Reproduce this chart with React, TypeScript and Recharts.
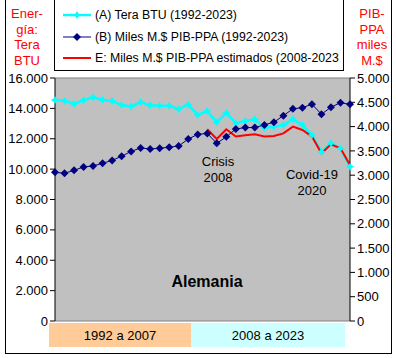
import React from 'react'
import { ComposedChart, Line, XAxis, YAxis, CartesianGrid, ReferenceLine } from 'recharts'

const years = [
  1992, 1993, 1994, 1995, 1996, 1997, 1998, 1999, 2000, 2001, 2002, 2003, 2004, 2005, 2006, 2007,
  2008, 2009, 2010, 2011, 2012, 2013, 2014, 2015, 2016, 2017, 2018, 2019, 2020, 2021, 2022, 2023,
]

// (A) Tera BTU
const teraBtu = [
  14550, 14500, 14290, 14530, 14730, 14550, 14480, 14220, 14130, 14420, 14200, 14170, 14170, 13950, 14260, 13560,
  13820, 13080, 13710, 13010, 13170, 13280, 12730, 12790, 12900, 13280, 12900, 12240, 11150, 11700, 11370, 10160,
]

// (B) Miles M.$ PIB-PPA
const pibPpa = [
  3060, 3040, 3100, 3170, 3190, 3245, 3305, 3390, 3490, 3560, 3540, 3555, 3575, 3600, 3745, 3840,
  3860, 3655, 3790, 3950, 3980, 3980, 4035, 4090, 4225, 4365, 4390, 4460, 4255, 4400, 4490, 4460,
]

// E: estimados 2008-2023
const pibEst = [
  null, null, null, null, null, null, null, null, null, null, null, null, null, null, null, null,
  3945, 3745, 3945, 3795, 3820, 3840, 3795, 3805, 3860, 4000, 3930, 3795, 3450, 3635, 3555, 3210,
]

const leftTicks = [0, 2000, 4000, 6000, 8000, 10000, 12000, 14000, 16000]
const rightTicks = [0, 500, 1000, 1500, 2000, 2500, 3000, 3500, 4000, 4500, 5000]

const data = years.map((y, i) => ({ year: y, tera: teraBtu[i], pib: pibPpa[i], est: pibEst[i] }))

const fmt = (v: number) => String(v).replace(/\B(?=(\d{3})+(?!\d))/g, '.')

const font = '"Liberation Sans", Arial, sans-serif'

const Diamond = (props: any) => {
  const { cx, cy, fill } = props
  if (cx == null || cy == null) return null
  return <polygon points={`${cx},${cy - 4} ${cx + 4},${cy} ${cx},${cy + 4} ${cx - 4},${cy}`} fill={fill} />
}

const Star = (props: any) => {
  const { cx, cy } = props
  if (cx == null || cy == null) return null
  return (
    <polygon
      points={`${cx},${cy - 4} ${cx + 1.5},${cy - 1.5} ${cx + 4},${cy} ${cx + 1.5},${cy + 1.5} ${cx},${cy + 4} ${cx - 1.5},${cy + 1.5} ${cx - 4},${cy} ${cx - 1.5},${cy - 1.5}`}
      fill="#00FFFF"
    />
  )
}

const legendItems = [
  { label: '(A) Tera BTU (1992-2023)', color: '#00FFFF', w: 2.5, mark: 'star' },
  { label: '(B) Miles M.$ PIB-PPA (1992-2023)', color: '#000080', w: 1, mark: 'diamond' },
  { label: 'E: Miles M.$ PIB-PPA estimados (2008-2023', color: '#FF0000', w: 2, mark: '' },
]

export default function App() {
  return (
    <div style={{ position: 'absolute', left: 0, top: 0, width: 396, height: 358, background: '#fff', fontFamily: font, overflow: 'hidden' }}>
      <div style={{ position: 'absolute', left: 5, top: -1, width: 385, height: 353, border: '1px solid #000' }} />

      <ComposedChart
        width={396}
        height={358}
        data={data}
        margin={{ top: 78, right: 0, bottom: 37, left: 0 }}
        style={{ position: 'absolute', left: 0, top: 0 }}
      >
        <CartesianGrid fill="#C0C0C0" horizontal={false} vertical={false} yAxisId="left" />
        <XAxis dataKey="year" hide />
        <YAxis
          yAxisId="left"
          width={55}
          domain={[0, 16000]}
          ticks={leftTicks}
          tickFormatter={fmt}
          interval={0}
          axisLine={{ stroke: '#000' }}
          tickLine={{ stroke: '#000' }}
          tickSize={5}
          tick={{ fill: '#000', fontSize: 13, fontFamily: font }}
        />
        <YAxis
          yAxisId="right"
          orientation="right"
          width={46}
          domain={[0, 5000]}
          ticks={rightTicks}
          tickFormatter={fmt}
          interval={0}
          axisLine={{ stroke: '#000' }}
          tickLine={{ stroke: '#000' }}
          tickSize={5}
          tick={{ fill: '#000', fontSize: 13, fontFamily: font, textAnchor: 'start' }}
        />
        <ReferenceLine yAxisId="left" y={16000} stroke="#808080" />
        <ReferenceLine yAxisId="left" y={0} stroke="#808080" />
        <Line
          yAxisId="left"
          dataKey="tera"
          stroke="#00FFFF"
          strokeWidth={2.5}
          type="linear"
          dot={<Star />}
          isAnimationActive={false}
        />
        <Line
          yAxisId="right"
          dataKey="est"
          stroke="#FF0000"
          strokeWidth={2}
          type="linear"
          dot={false}
          connectNulls={false}
          isAnimationActive={false}
        />
        <Line
          yAxisId="right"
          dataKey="pib"
          stroke="#000080"
          strokeWidth={1}
          type="linear"
          dot={<Diamond fill="#000080" />}
          isAnimationActive={false}
        />
      </ComposedChart>

      {/* legend */}
      <div style={{ position: 'absolute', left: 54, top: -1, width: 288, height: 70, border: '1px solid #000', background: '#fff' }}>
        {legendItems.map((it, i) => (
          <div key={i} style={{ position: 'absolute', left: 8, top: 7 + i * 21.5, height: 16, display: 'flex', alignItems: 'center', fontSize: 12.3, whiteSpace: 'nowrap' }}>
            <svg width={28} height={10} style={{ marginRight: 4 }}>
              <line x1={0} y1={5} x2={28} y2={5} stroke={it.color} strokeWidth={it.w} />
              {it.mark === 'star' && <Star cx={14} cy={5} />}
              {it.mark === 'diamond' && <Diamond cx={14} cy={5} fill={it.color} />}
            </svg>
            <span>{it.label}</span>
          </div>
        ))}
      </div>

      {/* axis titles */}
      <div style={{ position: 'absolute', left: 6, top: 6, width: 42, textAlign: 'center', color: '#FF0000', fontSize: 13, lineHeight: '15.5px' }}>
        Ener-<br />gía:<br />Tera<br />BTU
      </div>
      <div style={{ position: 'absolute', left: 350, top: 6, width: 44, textAlign: 'center', color: '#FF0000', fontSize: 13, lineHeight: '15.5px' }}>
        PIB-<br />PPA<br />miles<br />M.$
      </div>

      {/* annotations */}
      <div style={{ position: 'absolute', left: 188, top: 154, width: 60, textAlign: 'center', fontSize: 13, lineHeight: '16px' }}>
        Crisis<br />2008
      </div>
      <div style={{ position: 'absolute', left: 277, top: 167, width: 70, textAlign: 'center', fontSize: 13, lineHeight: '16px' }}>
        Covid-19<br />2020
      </div>
      <div style={{ position: 'absolute', left: 160, top: 273, width: 94, textAlign: 'center', fontSize: 16, fontWeight: 'bold' }}>
        Alemania
      </div>

      {/* period bands */}
      <div style={{ position: 'absolute', left: 49, top: 323, width: 142, height: 24, background: '#FFCC99', fontSize: 13, display: 'flex', alignItems: 'center', justifyContent: 'center' }}>
        1992 a 2007
      </div>
      <div style={{ position: 'absolute', left: 191, top: 323, width: 154, height: 24, background: '#CCFFFF', fontSize: 13, display: 'flex', alignItems: 'center', justifyContent: 'center' }}>
        2008 a 2023
      </div>
    </div>
  )
}
